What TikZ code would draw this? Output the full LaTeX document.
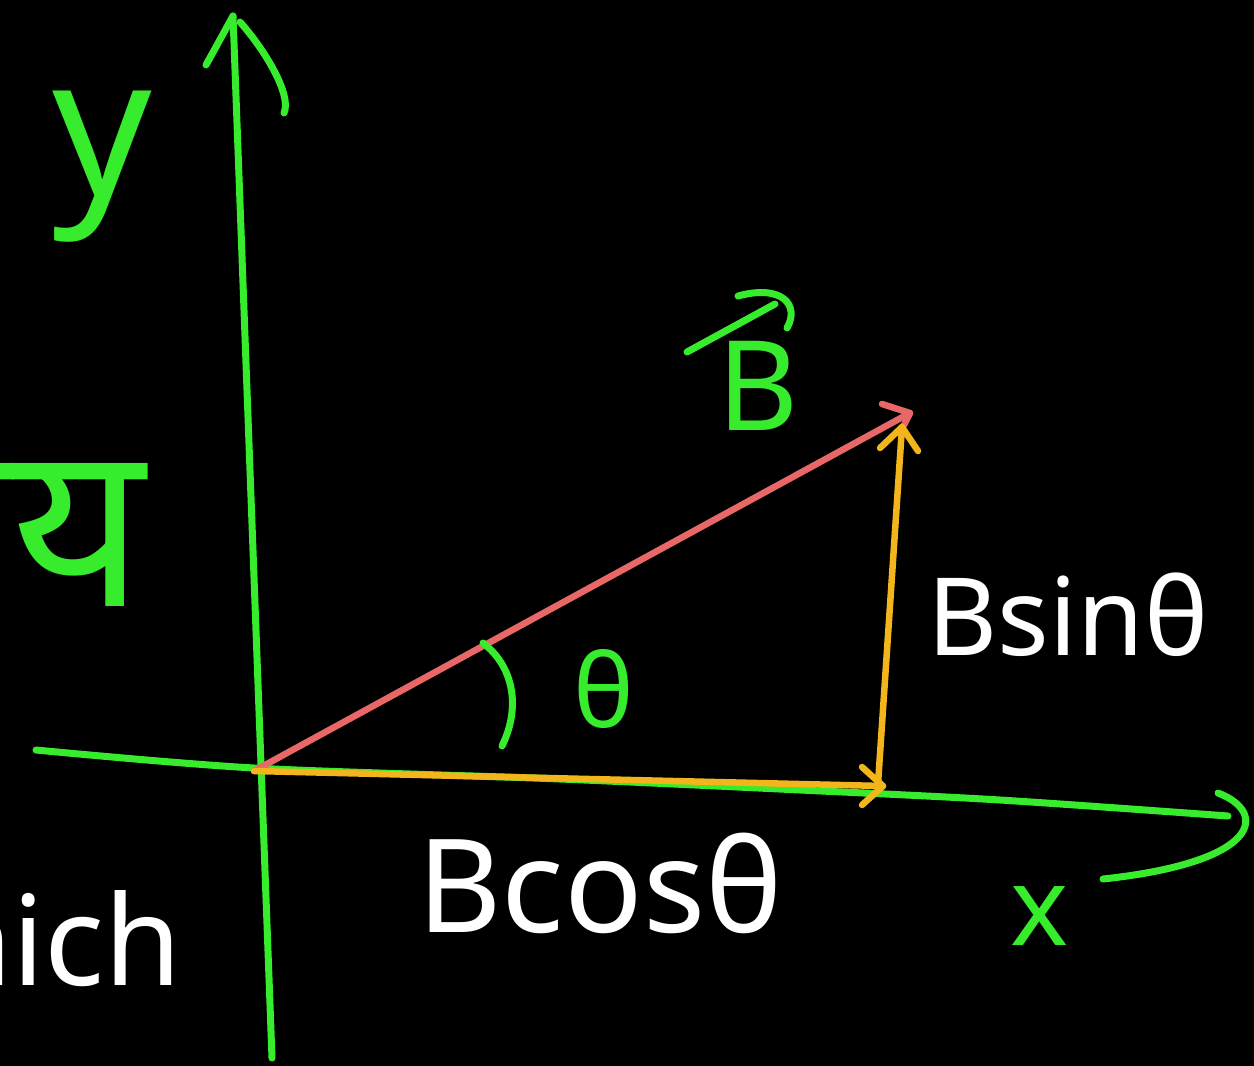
\documentclass[tikz,border=0pt]{standalone}
\usepackage{fontspec}
\setmainfont{Noto Sans}
\newfontfamily\devfont[Script=Devanagari]{Noto Sans}
\definecolor{chalkgreen}{RGB}{55,235,45}
\definecolor{chalkred}{RGB}{232,104,104}
\definecolor{chalkyellow}{RGB}{242,182,28}
\begin{document}
\begin{tikzpicture}[x=1pt,y=-1pt,
  chalk/.style={line width=7pt,line cap=round,line join=round},
  gr/.style={chalk,draw=chalkgreen},
  rd/.style={chalk,draw=chalkred,line width=6.5pt},
  yl/.style={chalk,draw=chalkyellow,line width=6.5pt},
  lbl/.style={inner sep=0pt,outer sep=0pt}]
\fill[black] (0,0) rectangle (1254,1066);
\useasboundingbox (0,0) rectangle (1254,1066);

% named points
\coordinate (O) at (254,771);
\coordinate (P) at (910,413);
\coordinate (H) at (883,786);
\coordinate (V) at (878,784);
\coordinate (T) at (902,427);
\coordinate (Ytop) at (233,16);
\coordinate (Ybot) at (272,1058);

% y axis
\draw[gr] (Ybot) -- (Ytop);
\draw[gr] (206,65) -- (Ytop);
\draw[gr] (240,22) .. controls (265,50) and (292,95) .. (284,113);

% x axis
\draw[gr] plot[smooth] coordinates {(36,750) (254,768) (560,779) (800,790) (1000,800) (1228,816)};
\draw[gr] (1218,793) .. controls (1268,812) and (1262,862) .. (1103,879);

% vector B (red)
\draw[rd] (O) -- (P);
\draw[rd] (882,404) -- (P) -- (904,425);

% components (yellow)
\draw[yl] (O) -- (H);
\draw[yl] (862,767) -- (H) -- (862,805);
\draw[yl] (V) -- (T);
\draw[yl] (880,448) -- (T) -- (918,451);

% angle arc
\draw[gr] (483,643) .. controls (512,665) and (522,705) .. (502,746);

% labels
\node[lbl,text=chalkgreen,font=\fontsize{195}{200}\selectfont,anchor=base] (ylab) at (102,195) {y};
\node[lbl,text=chalkgreen,font=\fontsize{110}{120}\selectfont,anchor=base] (xlab) at (1040,945) {x};
\node[lbl,text=chalkgreen,font=\fontsize{102}{110}\selectfont,anchor=base] (th) at (604,727) {θ};
\node[lbl,text=chalkgreen,font=\fontsize{125}{130}\selectfont,anchor=base] (Blab) at (758,430) {B};
\draw[gr] (687,352) -- (775,304);
\draw[gr] (738,296) .. controls (782,284) and (800,305) .. (787,328);
\node[lbl,text=white,font=\fontsize{108}{115}\selectfont,anchor=base] (bsin) at (1068,655) {Bsinθ};
\node[lbl,text=white,font=\fontsize{130}{140}\selectfont,anchor=base] (bcos) at (600,932) {Bcosθ};
\node[lbl,text=white,font=\fontsize{125}{135}\selectfont,anchor=base east] (which) at (182,985) {which};
\node[lbl,text=chalkgreen,font=\devfont\fontsize{230}{240}\selectfont,anchor=base east] (vishay) at (145,606) {विषय};
\end{tikzpicture}
\end{document}
